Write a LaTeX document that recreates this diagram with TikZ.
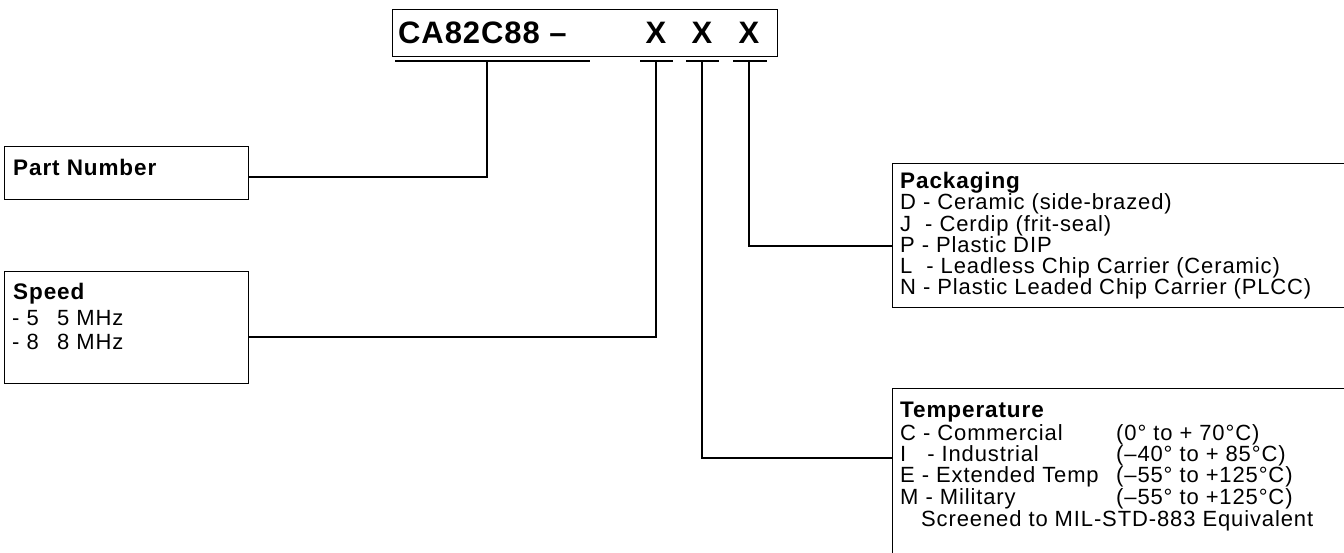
\documentclass[tikz,border=0pt]{standalone}
\usepackage{fontspec}
\setmainfont{Liberation Sans}[LetterSpace=4]
\newfontfamily\hdrfont{Liberation Sans}[LetterSpace=3]
\usetikzlibrary{calc}
\begin{document}
\begin{tikzpicture}[x=1pt,y=-1pt,
  box/.style={draw, line width=1.3pt, inner sep=0pt, anchor=north west},
  txt/.style={anchor=base west, inner sep=0pt, font=\fontsize{22}{22}\selectfont},
  ttl/.style={anchor=base west, inner sep=0pt, font=\fontsize{22.5}{22.5}\selectfont\bfseries},
  hdrtxt/.style={anchor=base west, inner sep=0pt, font=\hdrfont\fontsize{31}{31}\selectfont\bfseries},
  xtxt/.style={anchor=base, inner sep=0pt, font=\hdrfont\fontsize{31}{31}\selectfont\bfseries},
  conn/.style={draw, line width=1.3pt},
]
\useasboundingbox (0,0) rectangle (1344,553);
% boxes
\node[box, minimum width=385pt, minimum height=47pt] (hdr) at (392,9) {};
\node[box, minimum width=244pt, minimum height=53pt] (part) at (4,146) {};
\node[box, minimum width=244pt, minimum height=112pt] (speed) at (4,271) {};
\node[box, minimum width=480pt, minimum height=144pt] (pack) at (892,163) {};
\node[box, minimum width=480pt, minimum height=190pt] (temp) at (892,388) {};
% header text
\node[hdrtxt] (code) at (398,44) {CA82C88 –};
\node[xtxt] (x1) at (656,44) {X};
\node[xtxt] (x2) at (702,44) {X};
\node[xtxt] (x3) at (749,44) {X};
% underlines
\coordinate (u0a) at (395,61); \coordinate (u0b) at (590,61);
\coordinate (u1a) at (640,61); \coordinate (u1b) at (673,61);
\coordinate (u2a) at (686,61); \coordinate (u2b) at (719,61);
\coordinate (u3a) at (733,61); \coordinate (u3b) at (767,61);
\draw[conn] (u0a) -- (u0b);
\draw[conn] (u1a) -- (u1b);
\draw[conn] (u2a) -- (u2b);
\draw[conn] (u3a) -- (u3b);
\coordinate (t0) at (487,61);
\coordinate (t1) at (656,61);
\coordinate (t2) at (702,61);
\coordinate (t3) at (749,61);
% connectors
\draw[conn] (t0) |- ($(part.north east)+(0,31)$);
\draw[conn] (t1) |- ($(speed.north east)+(0,66)$);
\draw[conn] (t3) |- ($(pack.north west)+(0,83)$);
\draw[conn] (t2) |- ($(temp.north west)+(0,70)$);
% part number
\node[ttl] (partt) at (13,176) {Part Number};
% speed
\node[ttl] (spt) at (13,300) {Speed};
\node[txt] (s1a) at (12,326) {- 5};
\node[txt] (s1b) at (57,326) {5 MHz};
\node[txt] (s2a) at (12,349) {- 8};
\node[txt] (s2b) at (57,349) {8 MHz};
% packaging
\node[ttl] (pkt) at (900,189) {Packaging};
\node[txt] (p1) at (900,210) {D - Ceramic (side-brazed)};
\node[txt] (p2) at (900,232) {J \ - Cerdip (frit-seal)};
\node[txt] (p3) at (900,253) {P - Plastic DIP};
\node[txt] (p4) at (900,274) {L \ - Leadless Chip Carrier (Ceramic)};
\node[txt] (p5) at (900,295) {N - Plastic Leaded Chip Carrier (PLCC)};
% temperature
\node[ttl] (tpt) at (900,417) {Temperature};
\node[txt] (c1) at (900,440) {C - Commercial};
\node[txt] (c2) at (1116,440) {(0° to + 70°C)};
\node[txt] (i1) at (900,461) {I \ \ - Industrial};
\node[txt] (i2) at (1116,461) {(–40° to + 85°C)};
\node[txt] (e1) at (900,482) {E - Extended Temp};
\node[txt] (e2) at (1116,482) {(–55° to +125°C)};
\node[txt] (m1) at (900,504) {M - Military};
\node[txt] (m2) at (1116,504) {(–55° to +125°C)};
\node[txt] (scr) at (921,526) {Screened to MIL-STD-883 Equivalent};
\end{tikzpicture}
\end{document}
